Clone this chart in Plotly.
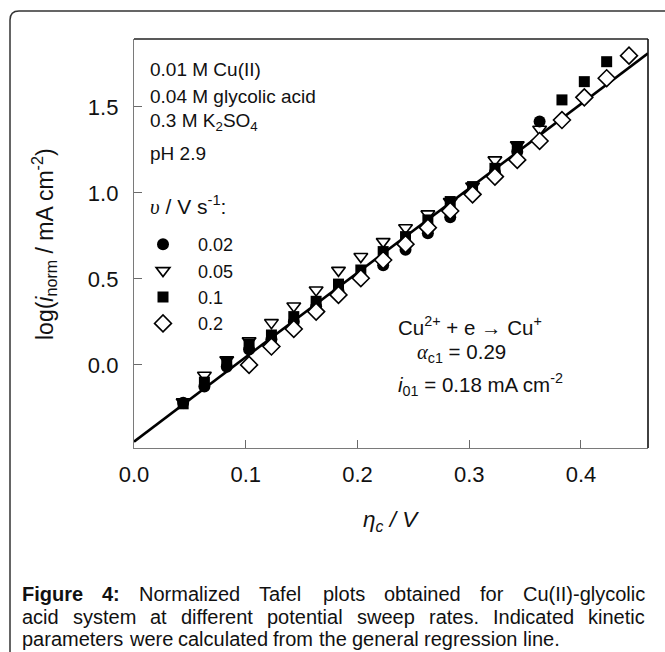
import plotly.graph_objects as go

# ---------------- data ----------------
eta_002 = [0.044, 0.063, 0.083, 0.103, 0.123, 0.143, 0.163, 0.183, 0.203, 0.223,
           0.243, 0.263, 0.283, 0.303, 0.323, 0.343, 0.363]
log_002 = [-0.22, -0.125, -0.01, 0.09, 0.15, 0.25, 0.34, 0.43, 0.51, 0.58,
           0.669, 0.766, 0.858, 0.99, 1.12, 1.24, 1.415]

eta_005 = [0.044, 0.063, 0.083, 0.103, 0.123, 0.143, 0.163, 0.183, 0.203, 0.223,
           0.243, 0.263, 0.283, 0.303, 0.323, 0.343, 0.363]
log_005 = [-0.215, -0.06, 0.03, 0.14, 0.246, 0.343, 0.436, 0.55, 0.63, 0.717,
           0.798, 0.878, 0.95, 1.04, 1.192, 1.28, 1.37]

eta_01 = [0.044, 0.063, 0.083, 0.103, 0.123, 0.143, 0.163, 0.183, 0.203, 0.223,
          0.243, 0.263, 0.283, 0.303, 0.323, 0.343, 0.383, 0.403, 0.423]
log_01 = [-0.226, -0.10, 0.02, 0.12, 0.174, 0.281, 0.37, 0.47, 0.552, 0.659,
          0.746, 0.843, 0.95, 1.037, 1.143, 1.269, 1.541, 1.647, 1.763]

eta_02 = [0.103, 0.123, 0.143, 0.163, 0.183, 0.203, 0.223, 0.243, 0.263, 0.283,
          0.303, 0.323, 0.343, 0.363, 0.383, 0.403, 0.423, 0.443]
log_02 = [0.0, 0.107, 0.209, 0.31, 0.407, 0.504, 0.61, 0.702, 0.798, 0.895,
          0.992, 1.095, 1.192, 1.302, 1.424, 1.556, 1.667, 1.798]

# general regression line
line_eta = [0.0, 0.46]
line_log = [-0.446, 1.812]

x_ticks = [0.0, 0.1, 0.2, 0.3, 0.4]
y_ticks = [0.0, 0.5, 1.0, 1.5]
sweep_labels = ["0.02", "0.05", "0.1", "0.2"]

caption_lines = [
    "Figure 4: Normalized Tafel plots obtained for Cu(II)-glycolic",
    "acid system at different potential sweep rates. Indicated kinetic",
    "parameters were calculated from the general regression line.",
]
caption_bold_words = 2          # "Figure 4:" is bold
caption_justified = [True, True, False]

# ---------------- layout helpers ----------------
W, H = 665, 652
L, R, T, B = 134, 17, 39, 204
PW, PH = W - L - R, H - T - B


def px(x):
    return (x - L) / PW


def py(y):
    return (H - B - y) / PH


FONT = "Liberation Sans, Arial, Helvetica, sans-serif"
SERIF = "Liberation Serif, Times New Roman, serif"

# Arial / Liberation Sans advance widths (1/1000 em) used to justify the caption
_W = {" ": 278, ".": 278, ",": 278, ":": 278, "-": 333, "(": 333, ")": 333,
      "I": 278, "C": 722, "F": 611, "N": 722, "T": 611,
      "a": 556, "b": 556, "c": 500, "d": 556, "e": 556, "f": 278, "g": 556,
      "h": 556, "i": 222, "j": 222, "k": 500, "l": 222, "m": 833, "n": 556,
      "o": 556, "p": 556, "q": 556, "r": 333, "s": 500, "t": 278, "u": 556,
      "v": 500, "w": 722, "x": 500, "y": 500, "z": 500}
_WB = {"F": 611, "i": 278, "g": 611, "u": 611, "r": 389, "e": 556, ":": 333}


def text_width(s, size, bold=False):
    tot = 0
    for ch in s:
        if ch.isdigit():
            tot += 556
        elif bold and ch in _WB:
            tot += _WB[ch]
        else:
            tot += _W.get(ch, 556)
    return tot * size / 1000.0


fig = go.Figure()

fig.add_trace(go.Scatter(x=line_eta, y=line_log, mode="lines",
                         line=dict(color="black", width=2.6),
                         showlegend=False, hoverinfo="skip"))

fig.add_trace(go.Scatter(x=eta_005, y=log_005, mode="markers", name=sweep_labels[1],
                         legendrank=2,
                         marker=dict(symbol="triangle-down", size=12, color="white",
                                     line=dict(color="black", width=1.6))))
fig.add_trace(go.Scatter(x=eta_01, y=log_01, mode="markers", name=sweep_labels[2],
                         legendrank=3,
                         marker=dict(symbol="square", size=11, color="black",
                                     line=dict(color="black", width=0))))
fig.add_trace(go.Scatter(x=eta_002, y=log_002, mode="markers", name=sweep_labels[0],
                         legendrank=1,
                         marker=dict(symbol="circle", size=12, color="black",
                                     line=dict(color="black", width=0))))
fig.add_trace(go.Scatter(x=eta_02, y=log_02, mode="markers", name=sweep_labels[3],
                         legendrank=4,
                         marker=dict(symbol="diamond", size=13, color="white",
                                     line=dict(color="black", width=1.6))))

axis_common = dict(showgrid=False, zeroline=False, showline=True,
                   linecolor="#7a7a7a", linewidth=1.3,
                   ticks="inside", ticklen=8, tickwidth=1.3, tickcolor="#6a6a6a",
                   tickfont=dict(family=FONT, size=22, color="#111"),
                   tickformat=".1f", mirror=False)

fig.update_xaxes(range=[0, 0.46], tickvals=x_ticks, ticklabelstandoff=6, **axis_common)
fig.update_yaxes(range=[-0.483, 1.895], tickvals=y_ticks, ticklabelstandoff=10, **axis_common)

shapes = [
    dict(type="line", xref="paper", yref="paper", x0=0, x1=1, y0=1, y1=1,
         line=dict(color="#222", width=1.3)),
    dict(type="line", xref="paper", yref="paper", x0=1, x1=1, y0=0, y1=1,
         line=dict(color="#111", width=1.6)),
    dict(type="path", xref="paper", yref="paper",
         path=(f"M {px(10)},{py(670)} L {px(10)},{py(20)} "
               f"Q {px(10)},{py(11)} {px(19)},{py(11)} L {px(690)},{py(11)}"),
         line=dict(color="#333", width=1.5)),
]

ann = []


def text(x, y, s, size=19, family=FONT, xanchor="left", **kw):
    ann.append(dict(x=px(x), y=py(y), xref="paper", yref="paper", text=s,
                    showarrow=False, xanchor=xanchor, yanchor="middle",
                    font=dict(family=family, size=size, color="#111"), **kw))


text(148, 70, "0.01 M Cu(II)")
text(148, 96, "0.04 M glycolic acid")
text(148, 122, "0.3 M K<sub>2</sub>SO<sub>4</sub>")
text(148, 153, "pH 2.9")
text(148, 205, f"<span style='font-family:{SERIF}'><i>υ</i></span> / V s<sup>-1</sup>:", size=21)

text(396, 326, "Cu<sup>2+</sup> + e → Cu<sup>+</sup>", size=20.5)
text(415, 353, f"<span style='font-family:{SERIF}'><i>α</i></span><sub>c1</sub> = 0.29", size=20.5)
text(396, 384, "<i>i</i><sub>01</sub> = 0.18 mA cm<sup>-2</sup>", size=20.5)

# axis titles
text(44, 244, "log(<i>i</i><sub>norm</sub> / mA cm<sup>-2</sup>)", size=23,
     xanchor="center", textangle=-90)
text(391, 521, "<i>η<sub>c</sub> / V</i>", size=22.5, xanchor="center")

# caption, justified between x=20 and x=643 like the reference
CAP_SIZE = 20
CAP_LEFT, CAP_RIGHT = 20, 643
cap_y = [594, 617, 639]
for i, line in enumerate(caption_lines):
    words = line.split(" ")
    bold = [(i == 0 and k < caption_bold_words) for k in range(len(words))]
    widths = [text_width(w, CAP_SIZE, b) for w, b in zip(words, bold)]
    if caption_justified[i]:
        gap = (CAP_RIGHT - CAP_LEFT - sum(widths)) / (len(words) - 1)
    else:
        gap = text_width(" ", CAP_SIZE)
    xcur = CAP_LEFT
    for w, b, wd in zip(words, bold, widths):
        text(xcur, cap_y[i], f"<b>{w}</b>" if b else w, size=CAP_SIZE)
        xcur += wd + gap

fig.update_layout(
    width=W, height=H, autosize=False,
    margin=dict(l=L, r=R, t=T, b=B, pad=0),
    paper_bgcolor="white", plot_bgcolor="white",
    shapes=shapes, annotations=ann,
    legend=dict(x=px(128), y=py(226), xanchor="left", yanchor="top",
                bgcolor="rgba(0,0,0,0)", itemwidth=60,
                font=dict(family=FONT, size=18, color="#111"),
                tracegroupgap=0),
)

fig.write_html("out.html")
